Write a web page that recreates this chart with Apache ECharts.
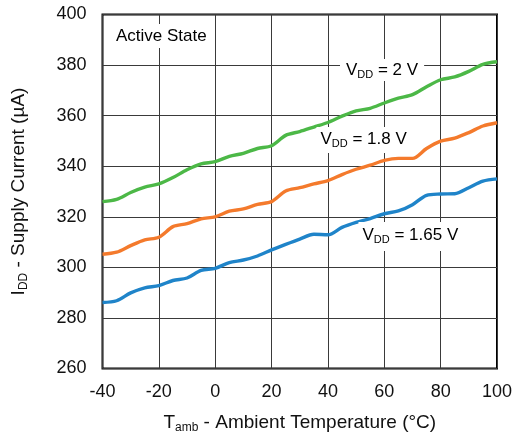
<!DOCTYPE html>
<html><head><meta charset="utf-8">
<script src="https://cdn.jsdelivr.net/npm/echarts@6/dist/echarts.min.js"></script>
<style>html,body{margin:0;padding:0;background:#fff}#c{width:512px;height:436px}</style>
</head><body><div id="c"></div>
<script>
const temps = [-40,-35,-30,-25,-20,-15,-10,-5,0,5,10,15,20,25,30,35,40,45,50,55,60,65,70,75,80,85,90,95,100];
const vdd2 = [326.0,326.9,329.6,331.7,333.0,335.5,338.6,340.9,341.8,343.9,345.1,347.0,348.1,352.2,353.7,355.5,357.3,359.8,361.9,362.9,365.0,366.9,368.3,371.4,374.2,375.3,377.5,380.3,381.3];
const vdd18 = [305.2,306.0,308.6,310.9,311.9,316.1,317.3,319.2,320.0,322.2,323.1,324.9,326.0,330.2,331.5,333.0,334.3,336.7,338.8,340.4,342.3,343.1,343.1,347.0,349.9,351.1,353.3,355.9,357.2];
const vdd165 = [286.1,286.8,289.9,291.9,292.8,294.8,295.8,298.8,299.6,301.9,302.9,304.5,306.9,309.1,311.2,313.1,312.9,315.8,317.8,319.3,321.2,322.3,324.8,328.5,329.0,329.1,331.5,334.1,335.0];
const xTicks = [-40,-20,0,20,40,60,80,100];
const yTicks = [260,280,300,320,340,360,380,400];

const FONT = 'Liberation Sans, Arial, sans-serif';
const rich = {
  a: {fontSize: 17, fontFamily: FONT, color: '#111', lineHeight: 20},
  s: {fontSize: 11, fontFamily: FONT, color: '#111', lineHeight: 11, verticalAlign: 'bottom', padding: [8,0,0,0]}
};
const richName = {
  a: {fontSize: 19, fontFamily: FONT, color: '#111', lineHeight: 22},
  s: {fontSize: 12, fontFamily: FONT, color: '#111', lineHeight: 12, verticalAlign: 'bottom', padding: [9,0,0,0]}
};
function mk(arr){ return temps.map((t,i)=>[t,arr[i]]); }
function line(name, arr, color){
  return {name, type:'line', data: mk(arr), smooth: 0.3, showSymbol:false,
    lineStyle:{color, width:3.4}, itemStyle:{color}, z:3};
}
const chart = echarts.init(document.getElementById('c'), null, {renderer:'canvas'});
chart.setOption({
  animation:false,
  grid:{left:102.5, right:15, top:14.5, bottom:67.5, containLabel:false, outerBoundsMode:'none',
    show:true, borderColor:'#000', borderWidth:2, backgroundColor:'transparent'},
  xAxis:{type:'value', min:-40, max:100, interval:20,
    axisLine:{show:false}, axisTick:{show:false},
    splitLine:{show:true, lineStyle:{color:'#3a3a3a', width:1}},
    axisLabel:{fontSize:18, fontFamily:FONT, color:'#111', margin:15},
    name:'{a|T}{s|amb}{a| - Ambient Temperature (°C)}', nameLocation:'middle', nameGap:43,
    nameTextStyle:{rich: richName}},
  yAxis:{type:'value', min:260, max:400, interval:20,
    axisLine:{show:false}, axisTick:{show:false},
    splitLine:{show:true, lineStyle:{color:'#3a3a3a', width:1}},
    axisLabel:{fontSize:18, fontFamily:FONT, color:'#111', margin:16},
    name:'{a|I}{s|DD}{a| - Supply Current (µA)}', nameLocation:'middle', nameGap:73, nameRotate:90,
    nameTextStyle:{rich: richName}},
  series:[ line('VDD = 2 V', vdd2, '#4cb847'), line('VDD = 1.8 V', vdd18, '#f47a2c'), line('VDD = 1.65 V', vdd165, '#1f84c9') ],
  graphic:[
    {type:'text', left:112, top:24, z:10, style:{text:'{a|Active State}', rich, backgroundColor:'#fff', padding:[2,4,2,4]}},
    {type:'text', left:340, top:59, z:10, style:{text:'{a|V}{s|DD}{a| = 2 V}', rich, backgroundColor:'#fff', padding:[1,6,1,6]}},
    {type:'text', left:316.5, top:127, z:10, style:{text:'{a|V}{s|DD}{a| = 1.8 V}', rich, backgroundColor:'#fff', padding:[2,4,4,4]}},
    {type:'text', left:358.5, top:222, z:10, style:{text:'{a|V}{s|DD}{a| = 1.65 V}', rich, backgroundColor:'#fff', padding:[3,4,6,4]}}
  ]
});
</script></body></html>
